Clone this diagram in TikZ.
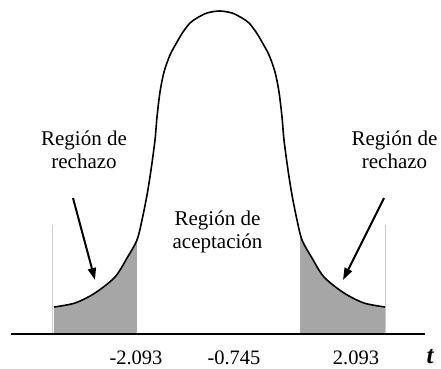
\documentclass[tikz,border=0pt]{standalone}
\usepackage{fontspec}
\setmainfont{Liberation Serif}
\usetikzlibrary{arrows.meta}

\begin{document}
\begin{tikzpicture}[%
    x=1pt,
    y=-1pt,
    label/.style={%
        align=center,
        inner sep=0pt,
        font=\fontsize{21}{23}\selectfont
    },
    tick/.style={%
        anchor=base,
        inner sep=0pt,
        font=\fontsize{20.5}{23}\selectfont
    },
    curve/.style={%
        draw,
        line width=1.6pt
    },
    region/.style={%
        fill=gray!70
    },
    bound/.style={%
        draw=gray!40,
        line width=0.8pt
    },
    pointer/.style={%
        line width=2pt,
        -{Triangle[length=12pt,width=8pt]}
    }
]
\useasboundingbox (0,0) rectangle (441,368);

\def\bellcurve{plot[smooth] coordinates {(54,307) (75,303) (95,293) (115,277)
    (127,258) (137,240) (142,220) (147,195) (151,170) (155,140) (157,117)
    (160,92) (164,72) (170,55) (177,42) (183,32) (190,23) (197,18) (207,13)
    (219.5,11)
    (232,13) (242,18) (249,23) (256,32) (262,42) (269,55) (275,72) (279,92)
    (282,117) (284,140) (288,170) (292,195) (297,220) (302,240) (312,258)
    (324,277) (344,293) (364,303) (385,307)}}

% Rejection regions
\begin{scope}
    \clip \bellcurve -- (385,334) -- (54,334) -- cycle;
    \fill[region] (54,0) rectangle (137,334);
    \fill[region] (300,0) rectangle (385,334);
\end{scope}

% Bounds
    \coordinate (boundLeftTop) at (52,225);
    \coordinate (boundLeftBottom) at (52,334);
    \coordinate (boundRightTop) at (385,225);
    \coordinate (boundRightBottom) at (385,334);
\draw[bound] (boundLeftTop) -- (boundLeftBottom);
\draw[bound] (boundRightTop) -- (boundRightBottom);

% Curve
\draw[curve] \bellcurve;

% Axis
    \coordinate (axisStart) at (11,334);
    \coordinate (axisEnd) at (425,334);
\draw[line width=2pt] (axisStart) -- (axisEnd);

% Labels
    \node[label] (rejectLeft) at (84,149.5) {Región de\\rechazo};
    \node[label] (rejectRight) at (394.5,149.5) {Región de\\rechazo};
    \node[label] (accept) at (217.5,231.5) {Región de\\aceptación};

% Ticks
    \node[tick] (tickLow) at (136,364) {-2.093};
    \node[tick] (tickMid) at (234,364) {-0.745};
    \node[tick] (tickHigh) at (356,364) {2.093};
    \node[anchor=base, inner sep=0pt, font=\fontsize{25}{25}\selectfont\bfseries\itshape] (tVar) at (430,363) {t};

% Arrows
    \coordinate (arrowLeftStart) at (73,198);
    \coordinate (arrowLeftTip) at (95,280);
    \coordinate (arrowRightStart) at (384,198);
    \coordinate (arrowRightTip) at (343,280);
\draw[pointer] (arrowLeftStart) -- (arrowLeftTip);
\draw[pointer] (arrowRightStart) -- (arrowRightTip);

\end{tikzpicture}
\end{document}
